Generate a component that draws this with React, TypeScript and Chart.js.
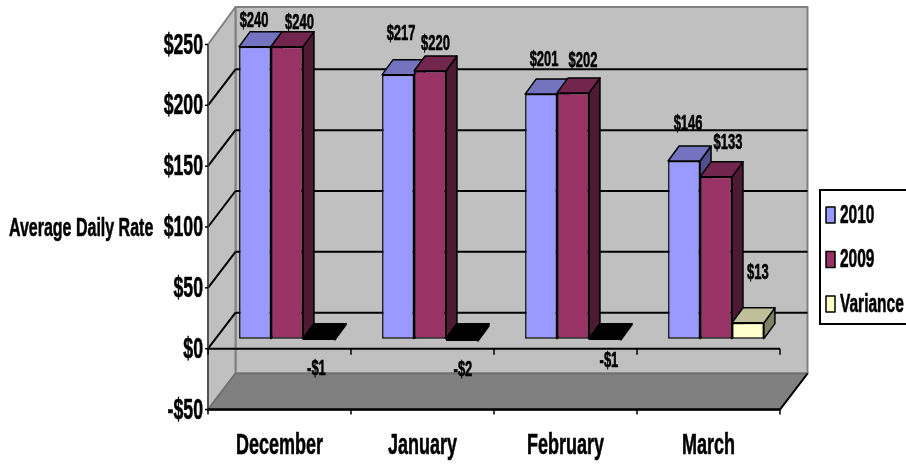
import React, { useEffect, useRef } from "react";
import { Chart, registerables } from "chart.js";

Chart.register(...registerables);

const months = ["December", "January", "February", "March"];
const seriesNames = ["2010", "2009", "Variance"];
const rate2010 = [240, 217, 201, 146];
const rate2009 = [240, 220, 202, 133];
const variance = [-1, -2, -1, 13];

const yMin = -50;
const yMax = 250;
const yStep = 50;

const FONT = '"Liberation Sans", Arial, sans-serif';

// Floor and wall depth of the 3D box, and where the bars stand inside it.
const BOX_DX = 27.5;
const BOX_DY = -36;
const BAR_SHIFT_X = 7.5;
const BAR_SHIFT_Y = -10;
const BAR_DEPTH_X = 11;
const BAR_DEPTH_Y = -15;

// Face colours per series: front, top, side.
const faces = [
  ["#9999FF", "#7373BF", "#50508F"],
  ["#993366", "#73264D", "#4D1A33"],
  ["#FFFFCC", "#BFBF99", "#808066"],
];

// Hand placement of the value labels around each bar top (dx, dy).
const labelNudge = [
  [[-1, -26], [3, -41], [3, -34], [4, -37.5]],
  [[12.5, -24], [5.5, -27], [10, -32], [12, -34]],
  [[-2.5, 29], [1, 29], [4, 21], [10, -50]],
];

function squeezedText(
  ctx: CanvasRenderingContext2D,
  text: string,
  x: number,
  y: number,
  size: number,
  squeeze: number,
  align: CanvasTextAlign,
) {
  ctx.save();
  ctx.translate(x, y);
  ctx.scale(squeeze, 1);
  ctx.font = `bold ${size}px ${FONT}`;
  ctx.fillStyle = "#000";
  ctx.strokeStyle = "#000";
  ctx.lineWidth = 0.6;
  ctx.textAlign = align;
  ctx.textBaseline = "middle";
  ctx.fillText(text, 0, 0);
  ctx.strokeText(text, 0, 0);
  ctx.restore();
}

function poly(
  ctx: CanvasRenderingContext2D,
  pts: number[][],
  fill: string | null,
  stroke: string | null,
  width = 2,
) {
  ctx.beginPath();
  pts.forEach(([x, y], i) => (i ? ctx.lineTo(x, y) : ctx.moveTo(x, y)));
  ctx.closePath();
  if (fill) {
    ctx.fillStyle = fill;
    ctx.fill();
  }
  if (stroke) {
    ctx.strokeStyle = stroke;
    ctx.lineWidth = width;
    ctx.lineJoin = "round";
    ctx.stroke();
  }
}

function line(
  ctx: CanvasRenderingContext2D,
  x0: number,
  y0: number,
  x1: number,
  y1: number,
  color: string,
  width: number,
) {
  ctx.beginPath();
  ctx.moveTo(x0, y0);
  ctx.lineTo(x1, y1);
  ctx.strokeStyle = color;
  ctx.lineWidth = width;
  ctx.stroke();
}

const money = (v: number) => (v < 0 ? `-$${-v}` : `$${v}`);

const boxPlugin = {
  id: "box3d",
  // Walls, floor, gridlines and axis furniture, then the bars from left to
  // right so that each bar hides the side face of its left neighbour.
  beforeDatasetsDraw(chart: Chart) {
    const { ctx, chartArea: a } = chart;
    const y = chart.scales.y;
    const x = chart.scales.x;
    const bl = a.left + BOX_DX;
    const br = a.right + BOX_DX;
    const top = a.top;
    const bot = a.bottom;
    ctx.save();
    poly(ctx, [[bl, top + BOX_DY - 1.5], [br, top + BOX_DY - 1.5], [br, bot + BOX_DY], [bl, bot + BOX_DY]], "#C0C0C0", "#808080", 2);
    poly(ctx, [[a.left, top], [bl, top + BOX_DY - 1.5], [bl, bot + BOX_DY], [a.left, bot]], "#C0C0C0", "#808080", 2);
    poly(ctx, [[a.left, bot], [bl, bot + BOX_DY], [br, bot + BOX_DY], [a.right, bot]], "#808080", "#707070", 2);
    for (let v = yMin + yStep; v < yMax; v += yStep) {
      const py = y.getPixelForValue(v);
      line(ctx, a.left, py, bl, py + BOX_DY, "#000", 2);
      line(ctx, bl, py + BOX_DY, br, py + BOX_DY, "#000", 2);
    }
    line(ctx, a.left, top, a.left, bot + 2, "#404040", 1.5);
    const zero = y.getPixelForValue(0);
    line(ctx, a.left, zero, a.right, zero, "#000", 2);
    line(ctx, a.left, bot, a.right, bot, "#000", 2.5);
    line(ctx, a.right, bot, br, bot + BOX_DY, "#000", 2);
    for (let i = 0; i <= months.length; i++) {
      const px = i < months.length ? x.getPixelForValue(i) - x.width / months.length / 2 : a.right;
      line(ctx, px, zero, px, zero + 6, "#000", 1.5);
      line(ctx, px, bot, px, bot + 5, "#000", 1.5);
    }
    for (const t of y.ticks) {
      const py = y.getPixelForValue(t.value);
      line(ctx, a.left - 3, py, a.left, py, "#000", 1.5);
    }

    ctx.translate(BAR_SHIFT_X, BAR_SHIFT_Y);
    chart.data.datasets.forEach((_, si) => {
      const meta = chart.getDatasetMeta(si);
      const col = faces[si];
      meta.data.forEach((bar: any) => {
        const l = bar.x - bar.width / 2;
        const r = bar.x + bar.width / 2;
        const t = Math.min(bar.y, bar.base);
        const b = Math.max(bar.y, bar.base);
        const negative = bar.y > bar.base;
        poly(ctx, [[r, t], [r + BAR_DEPTH_X, t + BAR_DEPTH_Y], [r + BAR_DEPTH_X, b + BAR_DEPTH_Y], [r, b]], negative ? "#000" : col[2], "#000", 1.5);
        poly(ctx, [[l, t], [r, t], [r + BAR_DEPTH_X, t + BAR_DEPTH_Y], [l + BAR_DEPTH_X, t + BAR_DEPTH_Y]], negative ? "#000" : col[1], "#000", 1.5);
      });
      meta.controller.draw();
    });
    ctx.restore();
  },
  // The bars were already painted in the pass above.
  beforeDatasetDraw() {
    return false;
  },
  // Every text on the chart is set in a condensed bold face.
  afterDraw(chart: Chart) {
    const { ctx, chartArea: a } = chart;
    const y = chart.scales.y;
    const x = chart.scales.x;
    for (const t of y.ticks) {
      squeezedText(ctx, String(t.label), a.left - 5, y.getPixelForValue(t.value) + 1, 29, 0.61, "right");
    }
    months.forEach((m, i) => {
      squeezedText(ctx, m, x.getPixelForValue(i), 446, 30, 0.6, "center");
    });
    squeezedText(ctx, "Average Daily Rate", 9, 229, 26, 0.615, "left");

    chart.data.datasets.forEach((ds, si) => {
      chart.getDatasetMeta(si).data.forEach((bar: any, i) => {
        const [dx, dy] = labelNudge[si][i];
        squeezedText(
          ctx,
          money(ds.data[i] as number),
          bar.x + BAR_SHIFT_X + dx,
          bar.y + BAR_SHIFT_Y + dy,
          22,
          0.59,
          "center",
        );
      });
    });

    // Legend panel, running off the right edge of the canvas.
    ctx.save();
    ctx.fillStyle = "#fff";
    ctx.strokeStyle = "#000";
    ctx.lineWidth = 2;
    ctx.fillRect(820, 190, 90, 134);
    ctx.strokeRect(820, 190, 90, 134);
    seriesNames.forEach((name, i) => {
      const cy = 215 + i * 44.5;
      poly(ctx, [[826, cy - 8], [835, cy - 8], [835, cy + 8], [826, cy + 8]], faces[i][0], "#000", 1.5);
      squeezedText(ctx, name, 840, cy + 1, 25, 0.62, "left");
    });
    ctx.restore();
  },
};

export default function App() {
  const ref = useRef<HTMLCanvasElement>(null);
  useEffect(() => {
    const makeSet = (i: number, values: number[]) => ({
      label: seriesNames[i],
      data: values,
      clip: false as const,
      backgroundColor: (c: any) => (c.raw < 0 ? "#000" : faces[i][0]),
      borderColor: "#000",
      borderWidth: 1.5,
      borderSkipped: false as const,
    });
    const chart = new Chart(ref.current!, {
      type: "bar",
      data: {
        labels: months,
        datasets: [makeSet(0, rate2010), makeSet(1, rate2009), makeSet(2, variance)],
      },
      plugins: [boxPlugin as any],
      options: {
        animation: false,
        responsive: false,
        layout: { padding: { left: 208, right: 126, top: 44.5, bottom: 54.5 } },
        datasets: { bar: { categoryPercentage: 0.67, barPercentage: 1 } },
        plugins: { legend: { display: false }, tooltip: { enabled: false } },
        scales: {
          x: {
            grid: { display: false, drawTicks: false },
            border: { display: false },
            ticks: { display: false },
          },
          y: {
            min: yMin,
            max: yMax,
            grid: { display: false, drawTicks: false },
            border: { display: false },
            ticks: { display: false, stepSize: yStep, callback: (v: any) => money(Number(v)) },
          },
        },
      },
    });
    return () => chart.destroy();
  }, []);
  return (
    <div style={{ position: "absolute", left: 0, top: 0, width: 906, height: 464 }}>
      <canvas ref={ref} width={906} height={464} style={{ display: "block" }} />
    </div>
  );
}
